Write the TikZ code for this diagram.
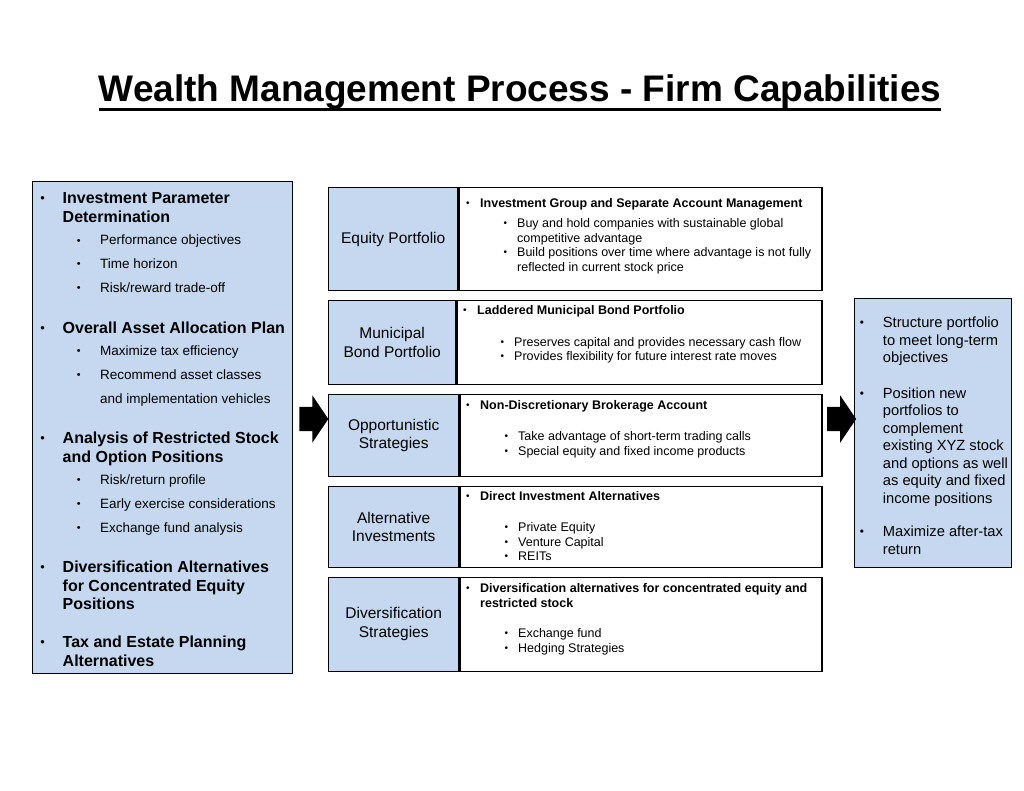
\documentclass[tikz,border=0pt]{standalone}
\usepackage{fontspec}
\setmainfont{Liberation Sans}
\usepackage{xcolor}
\usetikzlibrary{positioning,shapes.arrows}
\definecolor{paleblue}{RGB}{197,216,239}
\newsavebox{\ulinebox}
\newcommand{\thickunder}[1]{\sbox{\ulinebox}{#1}%
  \rlap{\rule[-9.4pt]{\wd\ulinebox}{2.4pt}}\usebox{\ulinebox}}
\newcommand{\bpt}[1]{\llap{\mdseries\raisebox{0.07em}{\scalebox{0.8}{\textbullet}}\hspace{#1}}}

\begin{document}
\begin{tikzpicture}[
  x=1pt, y=-1pt,
  panel/.style={draw, line width=1.4pt, fill=paleblue, anchor=north west,
    inner sep=0pt},
  celltag/.style={panel, align=center, font=\fontsize{15.5}{18.5}\selectfont},
  detail/.style={draw, line width=1.4pt, fill=white, anchor=north west,
    inner sep=0pt},
  lhead/.style={anchor=north west, inner sep=0pt, align=left,
    font=\bfseries\fontsize{16}{18.7}\selectfont},
  litem/.style={anchor=north west, inner sep=0pt, align=left,
    font=\fontsize{13.5}{23.8}\selectfont},
  rhead/.style={anchor=north west, inner sep=0pt, align=left,
    font=\bfseries\fontsize{12.5}{15}\selectfont},
  ritem/.style={anchor=north west, inner sep=0pt, align=left,
    font=\fontsize{12.5}{14.7}\selectfont},
  outitem/.style={anchor=north west, inner sep=0pt, align=left,
    font=\fontsize{14.7}{17.5}\selectfont},
  bigarrow/.style={single arrow, fill=black, inner xsep=0pt, inner ysep=12pt,
    minimum height=29pt, single arrow head extend=11.5pt,
    single arrow tip angle=112, single arrow head indent=0pt}
]
\useasboundingbox (0,0) rectangle (1024,791);

% title
\node[anchor=base, inner sep=0pt, font=\bfseries\fontsize{37}{40}\selectfont]
  (title) at (520,101.5) {\thickunder{Wealth Management Process - Firm Capabilities}};

% left column
\node[panel, minimum width=260pt, minimum height=492pt] (params) at (31.5,181) {};
\node[lhead] (p1) at (62.5,192.2) {\bpt{17.8pt}Investment Parameter\\Determination};
\node[litem] (p1s) at (100,235) {\bpt{19.6pt}Performance objectives\\
  \bpt{19.6pt}Time horizon\\\bpt{19.6pt}Risk/reward trade-off};
\node[lhead] (p2) at (62.5,322.2) {\bpt{17.8pt}Overall Asset Allocation Plan};
\node[litem] (p2s) at (100,345.8) {\bpt{19.6pt}Maximize tax efficiency\\
  \bpt{19.6pt}Recommend asset classes\\and implementation vehicles};
\node[lhead] (p3) at (62.5,431.7) {\bpt{17.8pt}Analysis of Restricted Stock\\and Option Positions};
\node[litem] (p3s) at (100,474.5) {\bpt{19.6pt}Risk/return profile\\
  \bpt{19.6pt}Early exercise considerations\\\bpt{19.6pt}Exchange fund analysis};
\node[lhead] (p4) at (62.5,560.7) {\bpt{17.8pt}Diversification Alternatives\\
  for Concentrated Equity\\Positions};
\node[lhead] (p5) at (62.5,635.7) {\bpt{17.8pt}Tax and Estate Planning\\Alternatives};

% middle rows
\node[celltag, minimum width=129pt, minimum height=103pt] (eqL) at (328,187) {Equity Portfolio};
\node[detail, minimum width=363pt, minimum height=103pt, right=0pt of eqL] (eqR) {};
\node[rhead] (eqH) at (480,198.5) {\bpt{10.5pt}Investment Group and Separate Account Management};
\node[ritem] (eqS) at (517,218.2) {\bpt{10pt}Buy and hold companies with sustainable global\\
  competitive advantage\\\bpt{10pt}Build positions over time where advantage is not fully\\
  reflected in current stock price};

\node[celltag, minimum width=127pt, minimum height=84pt] (muniL) at (328,300) {Municipal\\Bond Portfolio};
\node[detail, minimum width=365pt, minimum height=84pt, right=0pt of muniL] (muniR) {};
\node[rhead] (muniH) at (477,305.5) {\bpt{10.5pt}Laddered Municipal Bond Portfolio};
\node[ritem, font=\fontsize{12.5}{14}\selectfont] (muniS) at (514,337.2)
  {\bpt{10pt}Preserves capital and provides necessary cash flow\\
  \bpt{10pt}Provides flexibility for future interest rate moves};

\node[celltag, minimum width=130pt, minimum height=82pt] (oppL) at (328,394) {Opportunistic\\Strategies};
\node[detail, minimum width=362pt, minimum height=82pt, right=0pt of oppL] (oppR) {};
\node[rhead] (oppH) at (480,400.5) {\bpt{10.5pt}Non-Discretionary Brokerage Account};
\node[ritem] (oppS) at (518,431.5) {\bpt{10pt}Take advantage of short-term trading calls\\
  \bpt{10pt}Special equity and fixed income products};

\node[celltag, minimum width=130pt, minimum height=80.5pt] (altL) at (328,486) {Alternative\\Investments};
\node[detail, minimum width=362pt, minimum height=80.5pt, right=0pt of altL] (altR) {};
\node[rhead] (altH) at (480,491.2) {\bpt{10.5pt}Direct Investment Alternatives};
\node[ritem] (altS) at (518,522.2) {\bpt{10pt}Private Equity\\\bpt{10pt}Venture Capital\\
  \bpt{10pt}REITs};

\node[celltag, minimum width=130pt, minimum height=94pt] (divL) at (328,576.5) {Diversification\\Strategies};
\node[detail, minimum width=362pt, minimum height=94pt, right=0pt of divL] (divR) {};
\node[rhead] (divH) at (480,582.8) {\bpt{10.5pt}Diversification alternatives for concentrated equity and\\
  restricted stock};
\node[ritem, font=\fontsize{12.5}{15.4}\selectfont] (divS) at (518,627.8)
  {\bpt{10pt}Exchange fund\\\bpt{10pt}Hedging Strategies};

% right column
\node[panel, minimum width=157pt, minimum height=268.5pt] (result) at (854,298) {};
\node[outitem] (r1) at (882.7,316.7) {\bpt{19pt}Structure portfolio\\to meet long-term\\objectives};
\node[outitem] (r2) at (882.7,387.4) {\bpt{19pt}Position new\\portfolios to\\complement\\
  existing XYZ stock\\and options as well\\as equity and fixed\\income positions};
\node[outitem, font=\fontsize{14.7}{18.3}\selectfont] (r3) at (882.7,525.4)
  {\bpt{19pt}Maximize after-tax\\return};

% block arrows
\node[bigarrow] (arrL) at (309.7,419) {};
\node[bigarrow] (arrR) at (837.5,419) {};
\end{tikzpicture}
\end{document}
